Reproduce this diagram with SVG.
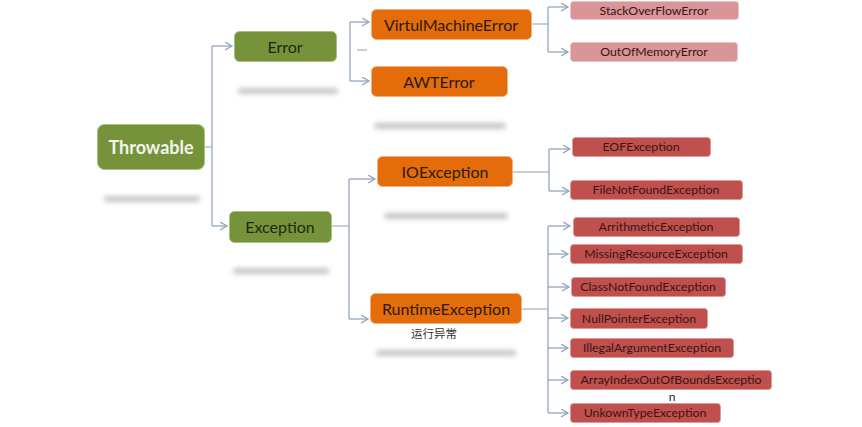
<svg xmlns="http://www.w3.org/2000/svg" width="862" height="427" viewBox="0 0 862 427">
  <defs>
    <filter id="soft" x="-20%" y="-200%" width="140%" height="500%">
      <feGaussianBlur stdDeviation="2.8"/>
    </filter>
    <marker id="chev" markerUnits="userSpaceOnUse" markerWidth="10" markerHeight="10" refX="7" refY="4" orient="auto">
      <path d="M0,0 L7,4 L0,8" fill="none" stroke="#8ba1b5" stroke-width="1.2"/>
    </marker>
    <style>
      .green { fill: #76933c; stroke: #a9c27a; stroke-width: 1; }
      .orange { fill: #e46c0a; stroke: #f5b07a; stroke-width: 1; }
      .pink { fill: #d99597; stroke: #ecc3c4; stroke-width: 1; }
      .red { fill: #c0504d; stroke: #e19a98; stroke-width: 1; }
      .t { font-family: Lato, "Liberation Sans", sans-serif; text-anchor: middle; dominant-baseline: central; }
      .big { font-size: 16px; fill: #2a1a08; }
      .gt { font-size: 16px; fill: #1c2a0b; }
      .sm { font-size: 12.3px; fill: #3a1414; }
      .ref { fill: #c6c6c6; filter: url(#soft); }
      .wire { fill: none; stroke: #8ba1b5; stroke-width: 1.2; }
      .arr { fill: none; stroke: #8ba1b5; stroke-width: 1.2; marker-end: url(#chev); }
    </style>
  </defs>
  <rect width="862" height="427" fill="#ffffff"/>

  <!-- blurred reflections under the main boxes -->
  <g id="reflections">
    <rect class="ref" x="104" y="196" width="96" height="6" rx="3"/>
    <rect class="ref" x="238" y="88" width="100" height="6" rx="3"/>
    <rect class="ref" x="233" y="268" width="96" height="6" rx="3"/>
    <rect class="ref" x="374" y="123" width="132" height="6" rx="3"/>
    <rect class="ref" x="384" y="213" width="124" height="6" rx="3"/>
    <rect class="ref" x="376" y="350" width="140" height="6" rx="3"/>
  </g>

  <g id="connectors">
    <path class="wire" d="M204,147 H212 M212,46 V226"/>
    <path class="arr" d="M212,46 H232"/>
    <path class="arr" d="M212,226 H227"/>

    <path class="wire" d="M350,22 V81 M357,50 H367"/>
    <path class="arr" d="M350,22 H369"/>
    <path class="arr" d="M350,81 H369"/>

    <path class="wire" d="M532,24 H548 M548,7 V52"/>
    <path class="arr" d="M548,7 H568"/>
    <path class="arr" d="M548,52 H568"/>

    <path class="wire" d="M332,226 H349 M349,179 V319"/>
    <path class="arr" d="M349,179 H375"/>
    <path class="arr" d="M349,319 H368"/>

    <path class="wire" d="M513,172 H549 M549,149 V191"/>
    <path class="arr" d="M549,149 H570"/>
    <path class="arr" d="M549,191 H569"/>

    <path class="wire" d="M522,309 H548 M548,226 V413"/>
    <path class="arr" d="M548,226 H570"/>
    <path class="arr" d="M548,254 H568"/>
    <path class="arr" d="M548,287 H569"/>
    <path class="arr" d="M548,318 H568"/>
    <path class="arr" d="M548,348 H568"/>
    <path class="arr" d="M548,380 H568"/>
    <path class="arr" d="M548,413 H568"/>
  </g>

  <g id="throwable">
    <rect class="green" x="97.5" y="124.5" width="107" height="45" rx="7"/>
    <text class="t" x="151" y="147" font-size="18" font-weight="bold" fill="#f2f5ea">Throwable</text>
  </g>
  <g id="error">
    <rect class="green" x="234.5" y="31.5" width="102" height="30" rx="5"/>
    <text class="t gt" x="285" y="46">Error</text>
  </g>
  <g id="exception">
    <rect class="green" x="229.5" y="211.5" width="102" height="31" rx="5"/>
    <text class="t gt" x="280" y="226.5">Exception</text>
  </g>

  <g id="virtualMachineError">
    <rect class="orange" x="371.5" y="9.5" width="160" height="30" rx="5"/>
    <text class="t big" x="451" y="24">VirtulMachineError</text>
  </g>
  <g id="awtError">
    <rect class="orange" x="371.5" y="66.5" width="136" height="30" rx="5"/>
    <text class="t big" x="439" y="81">AWTError</text>
  </g>
  <g id="ioException">
    <rect class="orange" x="377.5" y="156.5" width="135" height="30" rx="5"/>
    <text class="t big" x="445" y="171">IOException</text>
  </g>
  <g id="runtimeException">
    <rect class="orange" x="370.5" y="293.5" width="151" height="30" rx="5"/>
    <text class="t big" x="446" y="308">RuntimeException</text>
    <text x="434" y="333" font-family="'Noto Sans CJK SC', sans-serif" font-size="11.5" fill="#333333" text-anchor="middle" dominant-baseline="central">运行异常</text>
  </g>

  <g id="stackOverFlowError">
    <rect class="pink" x="570.5" y="1.5" width="168" height="18" rx="3"/>
    <text class="t sm" x="654" y="10">StackOverFlowError</text>
  </g>
  <g id="outOfMemoryError">
    <rect class="pink" x="570.5" y="42.5" width="167" height="19" rx="3"/>
    <text class="t sm" x="654" y="51.5">OutOfMemoryError</text>
  </g>

  <g id="eofException">
    <rect class="red" x="572.5" y="137.5" width="138" height="19" rx="3"/>
    <text class="t sm" x="641" y="146.5">EOFException</text>
  </g>
  <g id="fileNotFoundException">
    <rect class="red" x="570.5" y="180.5" width="172" height="19" rx="3"/>
    <text class="t sm" x="656" y="189.5">FileNotFoundException</text>
  </g>

  <g id="arithmeticException">
    <rect class="red" x="573.5" y="217.5" width="166" height="19" rx="3"/>
    <text class="t sm" x="656" y="226.5">ArrithmeticException</text>
  </g>
  <g id="missingResourceException">
    <rect class="red" x="570.5" y="244.5" width="172" height="19" rx="3"/>
    <text class="t sm" x="656" y="253.5">MissingResourceException</text>
  </g>
  <g id="classNotFoundException">
    <rect class="red" x="571.5" y="277.5" width="154" height="19" rx="3"/>
    <text class="t sm" x="648" y="286.5">ClassNotFoundException</text>
  </g>
  <g id="nullPointerException">
    <rect class="red" x="570.5" y="308.5" width="137" height="20" rx="3"/>
    <text class="t sm" x="639" y="318">NullPointerException</text>
  </g>
  <g id="illegalArgumentException">
    <rect class="red" x="570.5" y="338.5" width="163" height="19" rx="3"/>
    <text class="t sm" x="652" y="347.5">IllegalArgumentException</text>
  </g>
  <g id="arrayIndexOutOfBoundsException">
    <rect class="red" x="570.5" y="370.5" width="201" height="19" rx="3"/>
    <text class="t sm" x="671" y="379.5">ArrayIndexOutOfBoundsExceptio</text>
    <text class="t" x="672" y="396" font-size="12" fill="#222222">n</text>
  </g>
  <g id="unknownTypeException">
    <rect class="red" x="570.5" y="403.5" width="150" height="19" rx="3"/>
    <text class="t sm" x="645" y="412.5">UnkownTypeException</text>
  </g>
</svg>
